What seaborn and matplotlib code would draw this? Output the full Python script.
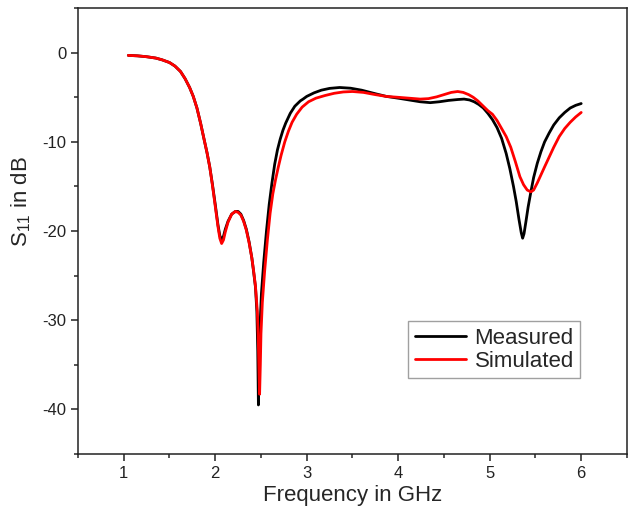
import pandas as pd
import seaborn as sns
import matplotlib.pyplot as plt
from matplotlib.ticker import MultipleLocator

# Measured S11
meas_freq = [1.05, 1.15, 1.25, 1.35, 1.42, 1.5, 1.56, 1.62, 1.67, 1.72, 1.76, 1.8,
             1.84, 1.88, 1.91, 1.94, 1.97, 2.0, 2.03, 2.05, 2.07, 2.09, 2.11, 2.14,
             2.18, 2.22, 2.25, 2.28, 2.31, 2.34, 2.37, 2.40, 2.42, 2.44, 2.455,
             2.465, 2.472, 2.48, 2.49, 2.505, 2.53, 2.56, 2.59, 2.62, 2.65, 2.68,
             2.71, 2.74, 2.77, 2.82, 2.87, 2.93, 2.96, 3.0, 3.08, 3.16, 3.25, 3.36,
             3.48, 3.6, 3.75, 3.87, 4.0, 4.12, 4.24, 4.35, 4.45, 4.55, 4.65, 4.72,
             4.78, 4.83, 4.88, 4.93, 4.98, 5.03, 5.08, 5.13, 5.18, 5.22, 5.26, 5.29,
             5.32, 5.345, 5.36, 5.375, 5.395, 5.42, 5.45, 5.48, 5.52, 5.56, 5.6,
             5.65, 5.7, 5.76, 5.82, 5.88, 5.94, 6.0]
meas_s11 = [-0.3, -0.35, -0.45, -0.6, -0.8, -1.1, -1.5, -2.1, -2.9, -3.9, -4.9, -6.2,
            -7.9, -9.8, -11.2, -12.8, -14.8, -17.0, -19.3, -20.5, -21.0, -20.6, -19.8, -18.9,
            -18.1, -17.8, -17.8, -18.1, -18.8, -19.8, -21.2, -23.0, -24.6, -26.3, -29.0,
            -33.5, -39.5, -34.5, -30.5, -27.0, -23.5, -20.0, -17.0, -14.6, -12.5, -10.9,
            -9.7, -8.7, -7.9, -6.8, -6.0, -5.4, -5.2, -4.9, -4.5, -4.2, -4.0, -3.9,
            -3.98, -4.2, -4.6, -4.9, -5.1, -5.3, -5.5, -5.6, -5.5, -5.35, -5.25, -5.2,
            -5.3, -5.5, -5.8, -6.2, -6.8, -7.5, -8.4, -9.6, -11.3, -13.0, -15.0, -16.7,
            -18.7, -20.2, -20.8, -20.3, -19.0, -17.3, -15.6, -14.0, -12.4, -11.1, -10.0,
            -9.0, -8.1, -7.3, -6.7, -6.2, -5.9, -5.7]

# Simulated S11
sim_freq = [1.05, 1.15, 1.25, 1.35, 1.42, 1.5, 1.56, 1.62, 1.67, 1.72, 1.76, 1.8,
            1.84, 1.88, 1.91, 1.94, 1.97, 2.0, 2.03, 2.05, 2.07, 2.09, 2.11, 2.14,
            2.18, 2.22, 2.25, 2.28, 2.31, 2.34, 2.37, 2.40, 2.42, 2.44, 2.46,
            2.47, 2.478, 2.485, 2.493, 2.50, 2.515, 2.54, 2.57, 2.60, 2.63, 2.66,
            2.69, 2.72, 2.76, 2.8, 2.84, 2.89, 2.95, 3.02, 3.1, 3.2, 3.3, 3.4,
            3.5, 3.62, 3.75, 3.87, 4.0, 4.12, 4.24, 4.33, 4.42, 4.5, 4.58, 4.65,
            4.71, 4.77, 4.82, 4.87, 4.93, 4.98, 5.03, 5.08, 5.13, 5.18, 5.23, 5.28,
            5.33, 5.37, 5.41, 5.45, 5.48, 5.52, 5.56, 5.6, 5.65, 5.7, 5.76, 5.82,
            5.88, 5.94, 6.0]
sim_s11 = [-0.3, -0.35, -0.45, -0.6, -0.8, -1.1, -1.5, -2.1, -2.9, -3.9, -4.9, -6.2,
           -7.9, -9.8, -11.2, -12.8, -14.9, -17.2, -19.5, -20.8, -21.4, -21.0, -20.1, -19.0,
           -18.1, -17.8, -17.9, -18.2, -18.9, -19.9, -21.3, -23.0, -24.5, -26.2, -29.0,
           -32.0, -35.5, -38.3, -35.0, -31.5, -28.0, -24.5, -21.0, -18.0, -15.8, -14.2,
           -12.8, -11.5, -10.0, -8.8, -7.8, -6.9, -6.1, -5.5, -5.1, -4.8, -4.55, -4.4,
           -4.35, -4.45, -4.7, -4.9, -5.0, -5.1, -5.2, -5.15, -4.95, -4.7, -4.45, -4.35,
           -4.45, -4.7, -5.0, -5.4, -6.0, -6.5, -6.9, -7.6, -8.5, -9.4, -10.6, -12.2,
           -13.9, -14.8, -15.4, -15.6, -15.4, -14.6, -13.7, -12.8, -11.7, -10.6, -9.4, -8.5,
           -7.8, -7.2, -6.7]

df = pd.concat([
    pd.DataFrame({'freq': meas_freq, 's11': meas_s11, 'series': 'Measured'}),
    pd.DataFrame({'freq': sim_freq, 's11': sim_s11, 'series': 'Simulated'}),
])

sns.set_style('ticks')
plt.rcParams['font.family'] = ['Liberation Sans', 'DejaVu Sans']
plt.rcParams['mathtext.fontset'] = 'custom'
plt.rcParams['mathtext.rm'] = 'Liberation Sans'
plt.rcParams['mathtext.it'] = 'Liberation Sans'
plt.rcParams['mathtext.default'] = 'regular'
plt.rcParams['axes.unicode_minus'] = False

fig = plt.figure(figsize=(6.32, 5.08), dpi=100)
ax = fig.add_axes([0.1234, 0.1063, 0.8686, 0.8777])

sns.lineplot(data=df, x='freq', y='s11', hue='series', sort=False,
             palette={'Measured': 'black', 'Simulated': '#ff0000'},
             linewidth=2.0, ax=ax)

ax.set_xlim(0.5, 6.5)
ax.set_ylim(-45, 5)
ax.xaxis.set_minor_locator(MultipleLocator(0.5))
ax.yaxis.set_minor_locator(MultipleLocator(5))
ax.set_xticks([1, 2, 3, 4, 5, 6])
ax.set_yticks([0, -10, -20, -30, -40])
ax.tick_params(which='major', direction='out', length=5, width=1.1, labelsize=12, colors='#222222')
ax.tick_params(which='minor', direction='out', length=3, width=1.1)
for s in ax.spines.values():
    s.set_linewidth(1.1)
    s.set_color('#222222')

ax.set_xlabel('Frequency in GHz', fontsize=16)
ax.set_ylabel('S$_{11}$ in dB', fontsize=16)
ax.xaxis.set_label_coords(0.5, -0.07)
ax.yaxis.set_label_coords(-0.082, 0.566)

ax.legend(title=None, loc='lower left', bbox_to_anchor=(0.601, 0.170),
          fontsize=16, frameon=True, fancybox=False, edgecolor='#888888',
          handlelength=2.3, handletextpad=0.4, borderpad=0.3, labelspacing=0.08,
          borderaxespad=0)

fig.savefig('out.png', dpi=100)
